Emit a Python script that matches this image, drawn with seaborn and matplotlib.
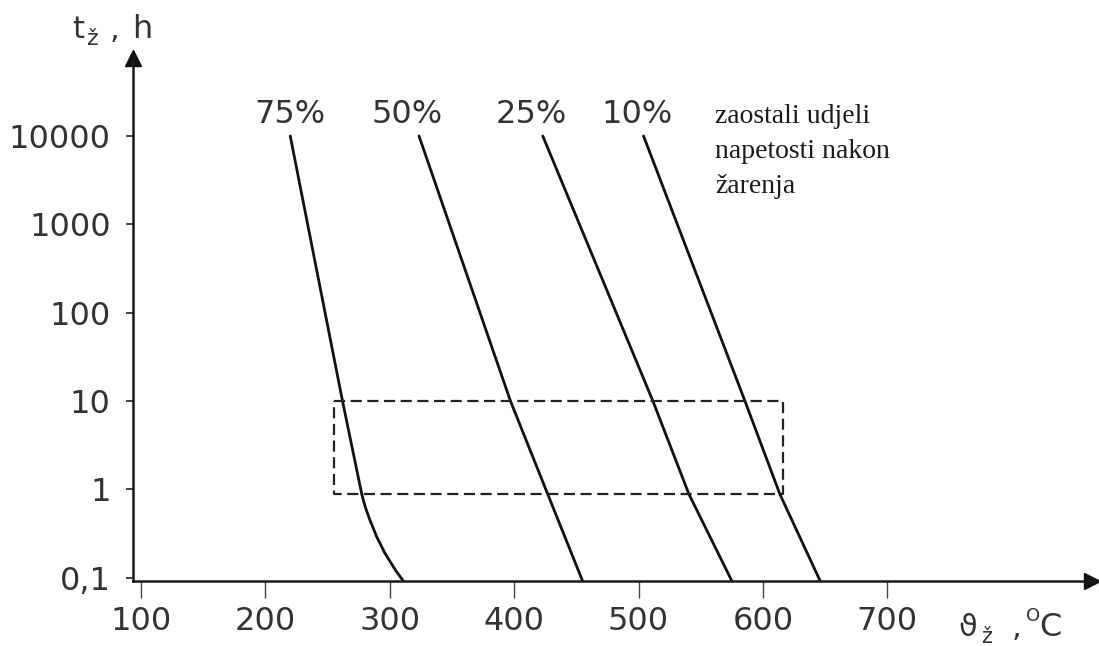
import matplotlib
matplotlib.use("Agg")
import matplotlib.pyplot as plt
import seaborn as sns
import pandas as pd

# Annealing time (h) versus annealing temperature (°C) for the residual stress fractions
t_75 = [10000, 10, 0.88, 0.63, 0.45, 0.29, 0.19, 0.122, 0.0915]
x_75 = [220, 262, 277.5, 280.3, 284, 289.5, 296, 304.5, 310.9]

t_main = [10000, 10, 0.88, 0.0915]
x_50 = [323.5, 397, 427, 455]
x_25 = [423, 511.5, 540.5, 575]
x_10 = [504, 585.5, 613.6, 646]

curve_labels = ["75%", "50%", "25%", "10%"]

# Recommended annealing window
box_temp = [255, 616]
box_time = [0.88, 10]

x_ticks = [100, 200, 300, 400, 500, 600, 700]
y_ticks = [0.1, 1, 10, 100, 1000, 10000]
y_tick_labels = ["0,1", "1", "10", "100", "1000", "10000"]

note_lines = ["zaostali udjeli", "napetosti nakon", "žarenja"]

sns.set_style("ticks")
plt.rcParams["font.family"] = ["DejaVu Sans"]

W, H = 1099, 646
fig = plt.figure(figsize=(W / 100, H / 100), dpi=100)


def px(x, y):
    return x / W, 1 - y / H


ax = fig.add_axes([133 / W, (H - 581) / H, (1092 - 133) / W, (581 - 58) / H])

frames = []
for name, xs, ts in [("75%", x_75, t_75), ("50%", x_50, t_main),
                     ("25%", x_25, t_main), ("10%", x_10, t_main)]:
    frames.append(pd.DataFrame({"temp": xs, "time": ts, "share": name}))
df = pd.concat(frames, ignore_index=True)

sns.lineplot(data=df, x="temp", y="time", hue="share", units="share",
             estimator=None, sort=False, palette=["#111111"] * 4,
             linewidth=2.0, legend=False, ax=ax)

ax.set_yscale("log")
ax.set_xlim(93.6, 864.5)
ax.set_ylim(0.0915, 76400)
ax.set_xlabel("")
ax.set_ylabel("")

# Dashed window
bx = [box_temp[0], box_temp[1], box_temp[1], box_temp[0], box_temp[0]]
by = [box_time[1], box_time[1], box_time[0], box_time[0], box_time[1]]
ax.plot(bx, by, color="#222222", lw=1.6, ls=(0, (5, 2.5)))

# Percentage labels above the curve tops
label_shift = [0, -9.6, -9.5, -5.3]
tops = [x_75[0], x_50[0], x_25[0], x_10[0]]
for lab, xt, dx in zip(curve_labels, tops, label_shift):
    ax.text(xt + dx, 14000, lab, ha="center", va="baseline",
            fontsize=23, color="#333333")

ax.set_xticks(x_ticks)
ax.set_xticklabels([str(v) for v in x_ticks])
ax.set_yticks(y_ticks)
ax.set_yticklabels(y_tick_labels)
ax.minorticks_off()
ax.tick_params(axis="x", direction="out", length=12, width=1.0, pad=6,
               labelsize=23, labelcolor="#333333", color="#444444")
ax.tick_params(axis="y", direction="out", length=5, width=1.4, pad=11,
               labelsize=23, labelcolor="#333333", color="#444444")

for s in ["top", "right"]:
    ax.spines[s].set_visible(False)
for s in ["left", "bottom"]:
    ax.spines[s].set_color("#1a1a1a")
    ax.spines[s].set_linewidth(1.8)

ax.plot([1], [0], marker=">", ms=11, color="#111111",
        transform=ax.transAxes, clip_on=False)
ax.plot([0], [1], marker="^", ms=11, color="#111111",
        transform=ax.transAxes, clip_on=False)

# Axis titles
fig.text(*px(72, 38), "t", fontsize=22, color="#333333", va="baseline")
fig.text(*px(87, 45), "ž", fontsize=16, color="#333333", va="baseline")
fig.text(*px(110, 38), ",", fontsize=22, color="#333333", va="baseline")
fig.text(*px(132, 38), "h", fontsize=23, color="#333333", va="baseline")

fig.text(*px(958, 636), "ϑ", fontsize=22, color="#333333", va="baseline")
fig.text(*px(981, 643), "ž", fontsize=15, color="#333333", va="baseline")
fig.text(*px(1012, 636), ",", fontsize=22, color="#333333", va="baseline")
fig.text(*px(1026, 621), "O", fontsize=13, color="#333333", va="baseline")
fig.text(*px(1039, 636), "C", fontsize=23, color="#333333", va="baseline")

# Explanatory note
for i, line in enumerate(note_lines):
    fig.text(*px(715, 123 + 35 * i), line, fontsize=20, color="#1a1a1a",
             va="baseline", family="Liberation Serif")

fig.savefig("out.png", dpi=100)
